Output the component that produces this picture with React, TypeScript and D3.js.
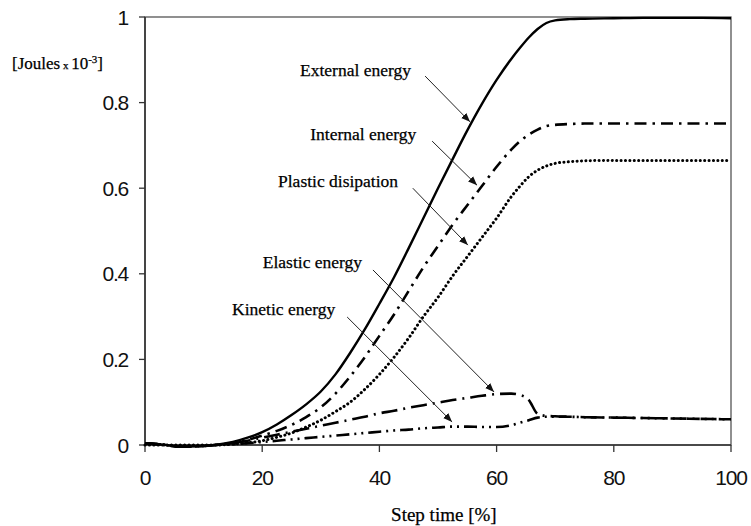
import React from 'react';
import * as d3 from 'd3';

const steps = [0, 3, 6, 9, 12, 15, 17.5, 20, 22.5, 25, 27.5, 30, 32.5, 35, 37.5, 40, 42.5, 45, 47.5, 50, 52.5, 55, 57.5, 60, 62.5, 64, 65.5, 67, 68.5, 70, 72.5, 75, 80, 85, 90, 95, 100];

const external = [0.004, 0.001, -0.004, -0.003, 0, 0.007, 0.017, 0.03, 0.048, 0.07, 0.095, 0.125, 0.165, 0.215, 0.27, 0.33, 0.392, 0.46, 0.53, 0.6, 0.668, 0.735, 0.797, 0.853, 0.902, 0.928, 0.952, 0.972, 0.986, 0.992, 0.995, 0.996, 0.997, 0.998, 0.998, 0.998, 0.997];
const internal = [0.004, 0.001, -0.004, -0.003, 0, 0.005, 0.012, 0.022, 0.033, 0.047, 0.065, 0.088, 0.12, 0.16, 0.205, 0.255, 0.305, 0.36, 0.415, 0.465, 0.515, 0.56, 0.605, 0.65, 0.69, 0.71, 0.725, 0.737, 0.745, 0.748, 0.75, 0.751, 0.751, 0.751, 0.751, 0.751, 0.751];
const plastic = [0, 0, 0, 0, 0, 0.002, 0.005, 0.01, 0.018, 0.028, 0.042, 0.058, 0.078, 0.1, 0.13, 0.165, 0.205, 0.25, 0.3, 0.345, 0.395, 0.44, 0.485, 0.53, 0.58, 0.605, 0.627, 0.642, 0.652, 0.658, 0.662, 0.664, 0.665, 0.665, 0.665, 0.665, 0.665];
const elastic = [0.004, 0.001, -0.004, -0.003, 0, 0.004, 0.01, 0.017, 0.024, 0.031, 0.038, 0.045, 0.052, 0.059, 0.066, 0.074, 0.08, 0.087, 0.093, 0.099, 0.105, 0.11, 0.115, 0.119, 0.12, 0.117, 0.105, 0.073, 0.068, 0.067, 0.066, 0.065, 0.064, 0.063, 0.062, 0.061, 0.06];
const kinetic = [0.004, 0.001, -0.004, -0.003, 0, 0.002, 0.004, 0.007, 0.01, 0.013, 0.016, 0.019, 0.022, 0.025, 0.028, 0.031, 0.034, 0.036, 0.039, 0.041, 0.043, 0.043, 0.042, 0.042, 0.046, 0.052, 0.058, 0.064, 0.066, 0.066, 0.066, 0.065, 0.064, 0.063, 0.062, 0.061, 0.06];

const xTicks = [0, 20, 40, 60, 80, 100];
const yTicks = [0, 0.2, 0.4, 0.6, 0.8, 1];

// label start / baseline, arrow start, arrow tip (data units)
const notes = [
  { text: 'External energy', lx: 26.45, ly: 0.862, fx: 47.8, fy: 0.862, tx: 55.46, ty: 0.755 },
  { text: 'Internal energy', lx: 28.2, ly: 0.713, fx: 49.0, fy: 0.71, tx: 56.66, ty: 0.607 },
  { text: 'Plastic disipation', lx: 22.7, ly: 0.603, fx: 45.7, fy: 0.6, tx: 55.1, ty: 0.467 },
  { text: 'Elastic energy', lx: 20.1, ly: 0.414, fx: 38.9, fy: 0.409, tx: 59.56, ty: 0.124 },
  { text: 'Kinetic energy', lx: 14.85, ly: 0.304, fx: 34.5, fy: 0.299, tx: 52.4, ty: 0.054 },
];

const series = [
  { values: kinetic, dash: '13,5,2,5,2,5', width: 2.6 },
  { values: elastic, dash: '16,6,2,6', width: 2.6 },
  { values: plastic, dash: '0.1,4.3', width: 3, cap: 'round' },
  { values: internal, dash: '12,6,2.5,6', width: 2.6 },
  { values: external, dash: null, width: 2.4 },
];

export default function App() {
  const width = 751;
  const height = 526;
  const margin = { top: 17, right: 20, bottom: 81, left: 145 };

  const x = d3.scaleLinear().domain([0, 100]).range([margin.left, width - margin.right]);
  const y = d3.scaleLinear().domain([0, 1]).range([height - margin.bottom, margin.top]);

  const line = d3.line<number>()
    .x((d, i) => x(steps[i]))
    .y(d => y(d))
    .curve(d3.curveMonotoneX);

  const axisFont = '"Liberation Sans", Arial, sans-serif';
  const serif = '"Liberation Serif", "Times New Roman", serif';

  return (
    <svg width={width} height={height} style={{ position: 'absolute', left: 0, top: 0, background: '#fff' }}>
      <defs>
        <marker id="arr" viewBox="0 0 10 10" refX="10" refY="5" markerWidth="9" markerHeight="9" markerUnits="userSpaceOnUse" orient="auto">
          <path d="M0,1 L10,5 L0,9 Z" fill="#111" />
        </marker>
      </defs>

      {/* frame */}
      <rect x={x(0)} y={y(1)} width={x(100) - x(0)} height={y(0) - y(1)} fill="none" stroke="#555" strokeWidth={1.3} />
      <line x1={x(0)} x2={x(0)} y1={y(1)} y2={y(0)} stroke="#333" strokeWidth={1.6} />
      <line x1={x(0)} x2={x(100)} y1={y(0)} y2={y(0)} stroke="#333" strokeWidth={1.6} />

      {xTicks.map(t => (
        <g key={'x' + t}>
          <line x1={x(t)} x2={x(t)} y1={y(0)} y2={y(0) + 7} stroke="#333" strokeWidth={1.3} />
          <text x={x(t)} y={y(0) + 40} textAnchor="middle" fontFamily={axisFont} fontSize={21} fill="#111" letterSpacing={-1.2}>{t}</text>
        </g>
      ))}
      {yTicks.map(t => (
        <g key={'y' + t}>
          <line x1={x(0) - 6} x2={x(0)} y1={y(t)} y2={y(t)} stroke="#333" strokeWidth={1.3} />
          <text x={x(0) - 17} y={y(t) + 7.5} textAnchor="end" fontFamily={axisFont} fontSize={21} fill="#111" letterSpacing={-1.2}>{t}</text>
        </g>
      ))}

      {series.map((s, i) => (
        <path
          key={i}
          d={line(s.values) || ''}
          fill="none"
          stroke="#000"
          strokeWidth={s.width}
          strokeDasharray={s.dash || undefined}
          strokeLinecap={(s.cap as any) || 'butt'}
        />
      ))}

      {notes.map(n => (
        <g key={n.text}>
          <text x={x(n.lx)} y={y(n.ly)} fontFamily={serif} fontSize={17.5} fill="#000" stroke="#000" strokeWidth={0.25}>{n.text}</text>
          <line x1={x(n.fx)} y1={y(n.fy)} x2={x(n.tx)} y2={y(n.ty)} stroke="#222" strokeWidth={1} markerEnd="url(#arr)" />
        </g>
      ))}

      <text x={12} y={69} fontFamily={serif} fontSize={17} fill="#000" stroke="#000" strokeWidth={0.25}>
        [Joules<tspan fontSize={11}> x </tspan>10<tspan fontSize={11} dy={-6}>-3</tspan><tspan dy={6}>]</tspan>
      </text>
      <text x={x(51)} y={521} textAnchor="middle" fontFamily={serif} fontSize={19} fill="#000" stroke="#000" strokeWidth={0.25}>Step time [%]</text>
    </svg>
  );
}
